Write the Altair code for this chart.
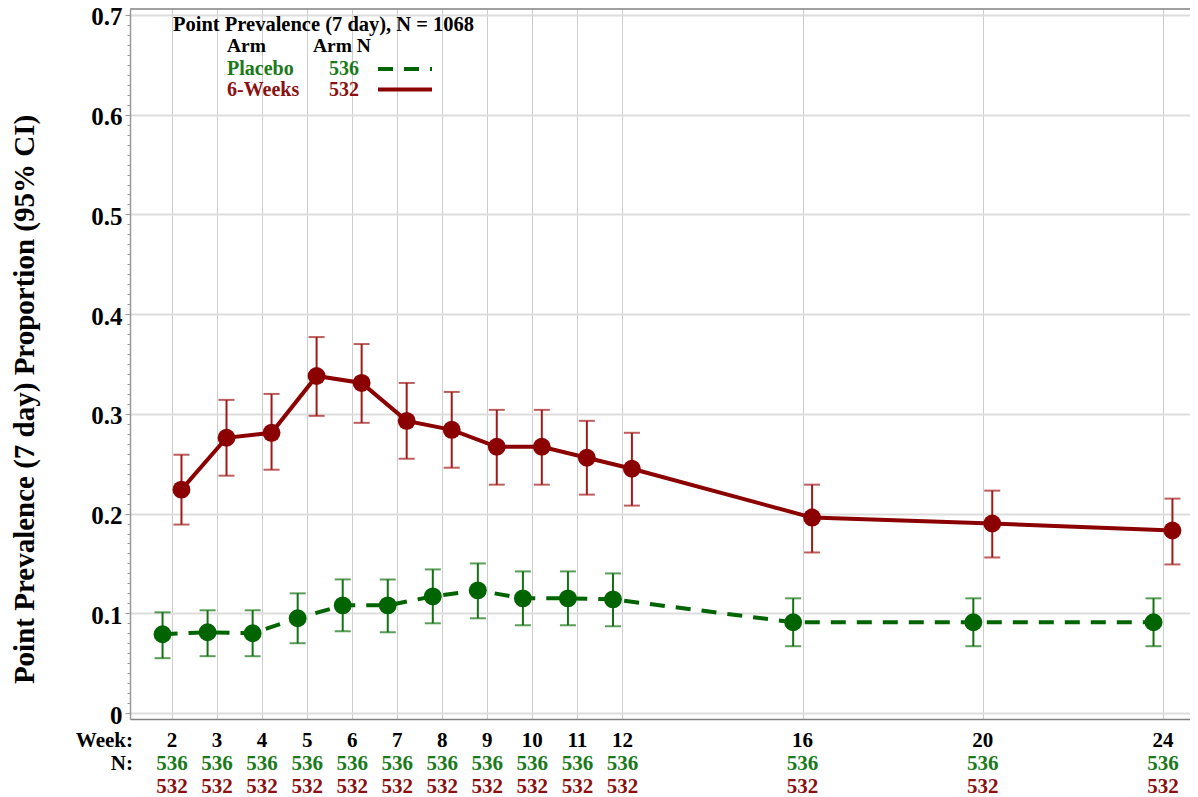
import altair as alt
import pandas as pd

# ---------------- data ----------------
weeks = [2, 3, 4, 5, 6, 7, 8, 9, 10, 11, 12, 16, 20, 24]
arms = ["Placebo", "6-Weeks"]
arm_n = [536, 532]
legend_title = "Point Prevalence (7 day), N = 1068"
y_title = "Point Prevalence (7 day) Proportion (95% CI)"

placebo_p = [0.079, 0.081, 0.080, 0.095, 0.108, 0.108, 0.117, 0.123, 0.115, 0.115, 0.114, 0.091, 0.091, 0.091]
placebo_lo = [0.055, 0.057, 0.057, 0.070, 0.082, 0.081, 0.090, 0.095, 0.088, 0.088, 0.087, 0.067, 0.067, 0.067]
placebo_hi = [0.101, 0.103, 0.103, 0.120, 0.134, 0.134, 0.144, 0.150, 0.142, 0.142, 0.140, 0.115, 0.115, 0.115]
placebo_n = [536, 536, 536, 536, 536, 536, 536, 536, 536, 536, 536, 536, 536, 536]

sixwk_p = [0.224, 0.276, 0.281, 0.338, 0.331, 0.293, 0.284, 0.267, 0.267, 0.256, 0.245, 0.196, 0.190, 0.183]
sixwk_lo = [0.189, 0.238, 0.244, 0.298, 0.291, 0.255, 0.246, 0.229, 0.229, 0.219, 0.208, 0.161, 0.156, 0.149]
sixwk_hi = [0.259, 0.314, 0.320, 0.377, 0.370, 0.331, 0.322, 0.304, 0.304, 0.293, 0.281, 0.229, 0.223, 0.215]
sixwk_n = [532, 532, 532, 532, 532, 532, 532, 532, 532, 532, 532, 532, 532, 532]

rows = []
for i, w in enumerate(weeks):
    rows.append(dict(arm=arms[0], week=w, p=placebo_p[i], lo=placebo_lo[i], hi=placebo_hi[i], n=placebo_n[i]))
    rows.append(dict(arm=arms[1], week=w, p=sixwk_p[i], lo=sixwk_lo[i], hi=sixwk_hi[i], n=sixwk_n[i]))
df = pd.DataFrame(rows)
wk_df = pd.DataFrame({"week": weeks})
one = alt.Data(values=[{"k": 1}])

# ---------------- style ----------------
W, H = 1060, 710
FONT = "Liberation Serif"
DODGE = 0.21
GREEN, GREEN_BAR, GREEN_TXT = "#006400", "#137313", "#1a7a1a"
RED, RED_BAR, RED_TXT = "#8b0000", "#a11a1a", "#8b1010"

xscale = alt.Scale(domain=[1.0675, 24.6], nice=False, zero=False)
yscale = alt.Scale(domain=[-0.006, 0.706], nice=False, zero=False)

x_axis = alt.Axis(values=weeks, labels=False, ticks=False, domain=True,
                  domainColor="#808080", domainWidth=1.5, grid=True,
                  gridColor="#cccccc", gridWidth=1, title=None)

minor_vals = [round(i * 0.01, 2) for i in range(71)]
major = "abs(datum.value*10 - round(datum.value*10)) < 0.001"
y_axis = alt.Axis(
    values=minor_vals,
    labelExpr=f"({major}) ? (datum.value == 0 ? '0' : format(datum.value, '.1f')) : ''",
    labelFont=FONT, labelFontSize=25, labelFontWeight="bold", labelColor="black",
    labelPadding=3, labelOverlap=False, labelOffset=2,
    tickSize={"condition": {"test": major, "value": 5}, "value": 3},
    tickColor="#999999", domainColor="#999999", domainWidth=1.5,
    grid=True, gridColor="#dddddd", gridWidth=2,
    gridOpacity={"condition": {"test": major, "value": 1}, "value": 0},
    title=y_title, titleFont=FONT, titleFontSize=29, titleFontWeight="bold",
    titleColor="black", titleX=-106, titleY=390, titleBaseline="middle",
    titleAngle=270,
)


def X(field):
    return alt.X(field, scale=xscale, axis=x_axis)


def Y(field):
    return alt.Y(field, scale=yscale, axis=y_axis)


def arm_layers(arm, off, line_color, bar_color, dash):
    base = (alt.Chart(df)
            .transform_filter(alt.datum.arm == arm)
            .transform_calculate(xpos=f"datum.week + ({off})"))
    rule = base.mark_rule(color=bar_color, strokeWidth=2).encode(
        x=X("xpos:Q"), y=Y("lo:Q"), y2="hi:Q")
    cap_lo = base.mark_tick(color=bar_color, orient="horizontal", size=16, thickness=2).encode(
        x=X("xpos:Q"), y=Y("lo:Q"))
    cap_hi = base.mark_tick(color=bar_color, orient="horizontal", size=16, thickness=2).encode(
        x=X("xpos:Q"), y=Y("hi:Q"))
    line_kw = dict(color=line_color, strokeWidth=4)
    if dash:
        line_kw["strokeDash"] = dash
    line = base.mark_line(**line_kw).encode(x=X("xpos:Q"), y=Y("p:Q"))
    pts = base.mark_circle(color=line_color, size=320, opacity=1).encode(
        x=X("xpos:Q"), y=Y("p:Q"))
    return [rule, cap_lo, cap_hi, line, pts]


layers = []
layers += arm_layers(arms[0], -DODGE, GREEN, GREEN_BAR, [15, 11])
layers += arm_layers(arms[1], DODGE, RED, RED_BAR, None)

# top frame line
layers.append(alt.Chart(one).mark_rule(color="#a0a0a0", strokeWidth=2).encode(
    x=alt.value(0), x2=alt.value(W), y=alt.value(0)))

# bottom table: weeks and N
ROW_WEEK, ROW_N1, ROW_N2 = 732, 755, 778
tfont = dict(font=FONT, fontWeight="bold", fontSize=21, baseline="middle")
layers.append(alt.Chart(wk_df).mark_text(color="black", **tfont).encode(
    x=X("week:Q"), y=alt.value(ROW_WEEK), text="week:Q"))
layers.append(alt.Chart(df).transform_filter(alt.datum.arm == arms[0]).mark_text(
    color=GREEN_TXT, **tfont).encode(x=X("week:Q"), y=alt.value(ROW_N1), text="n:Q"))
layers.append(alt.Chart(df).transform_filter(alt.datum.arm == arms[1]).mark_text(
    color=RED_TXT, **tfont).encode(x=X("week:Q"), y=alt.value(ROW_N2), text="n:Q"))
layers.append(alt.Chart(one).mark_text(color="black", align="right", **tfont).encode(
    x=alt.value(3), y=alt.value(ROW_WEEK), text=alt.value("Week:")))
layers.append(alt.Chart(one).mark_text(color="black", align="right", **tfont).encode(
    x=alt.value(3), y=alt.value(ROW_N1), text=alt.value("N:")))

# legend
lfont = dict(font=FONT, fontWeight="bold", baseline="middle")
layers.append(alt.Chart(one).mark_text(color="black", align="left", fontSize=20.5, **lfont).encode(
    x=alt.value(43), y=alt.value(16), text=alt.value(legend_title)))
layers.append(alt.Chart(one).mark_text(color="black", align="left", fontSize=19.5, **lfont).encode(
    x=alt.value(97), y=alt.value(37), text=alt.value("Arm")))
layers.append(alt.Chart(one).mark_text(color="black", align="left", fontSize=19.5, **lfont).encode(
    x=alt.value(183), y=alt.value(37), text=alt.value("Arm N")))
for arm, n, ypx, tcol, lcol, dash in [
    (arms[0], arm_n[0], 60, GREEN_TXT, GREEN, [15, 11]),
    (arms[1], arm_n[1], 80.5, RED_TXT, RED, None),
]:
    layers.append(alt.Chart(one).mark_text(color=tcol, align="left", fontSize=20, **lfont).encode(
        x=alt.value(97), y=alt.value(ypx), text=alt.value(arm)))
    layers.append(alt.Chart(one).mark_text(color=tcol, align="center", fontSize=20, **lfont).encode(
        x=alt.value(214), y=alt.value(ypx), text=alt.value(str(n))))
    kw = dict(color=lcol, strokeWidth=4)
    if dash:
        kw["strokeDash"] = dash
    layers.append(alt.Chart(one).mark_rule(**kw).encode(
        x=alt.value(248), x2=alt.value(302), y=alt.value(ypx)))

chart = (alt.layer(*layers)
         .properties(width=W, height=H,
                     padding={"left": 122, "top": 1, "right": 0, "bottom": 79},
                     autosize=alt.AutoSizeParams(type="none"),
                     background="white")
         .configure_view(stroke=None))

chart.save("out.html", embed_options={"renderer": "svg", "actions": False})
